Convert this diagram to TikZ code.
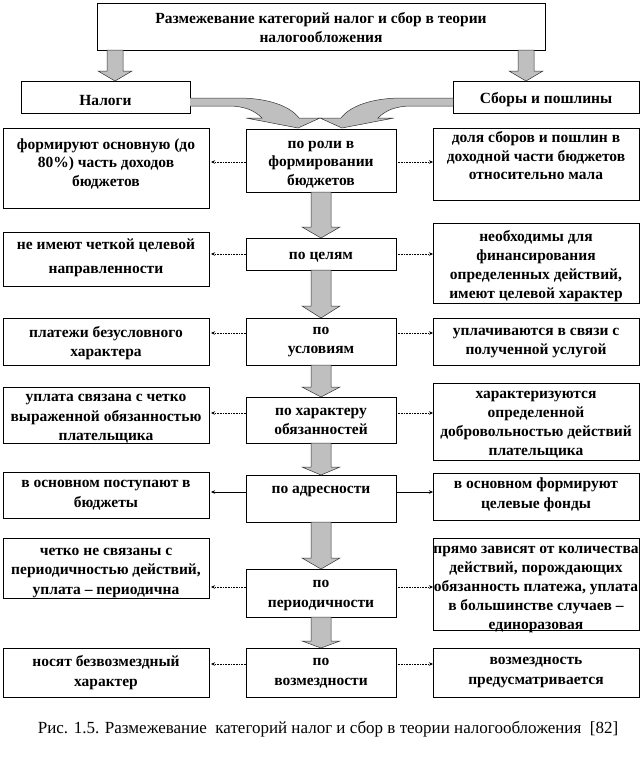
\documentclass[tikz,border=0pt]{standalone}
\usepackage{fontspec}
\setmainfont{Liberation Serif}
\usetikzlibrary{shadows,arrows.meta,calc}
\newcommand\bx[5]{\node[box, minimum width={#4-#2}, minimum height={#5-#3}] (#1) at (#2,#3) {};}
\newcommand\bdown[3]{\draw[blk] ($(#1.south)+(-10,0)$) -- ($(#1.south)+(10,0)$) -- ($(#2.north)+(10,-#3)$) -- ($(#2.north)+(19,-#3)$) -- (#2.north) -- ($(#2.north)+(-19,-#3)$) -- ($(#2.north)+(-10,-#3)$) -- cycle;}
\begin{document}
\begin{tikzpicture}[x=1pt,y=-1pt,
  box/.style={draw=black, line width=0.6pt, fill=white, inner sep=0pt, outer sep=0pt, anchor=north west,
    drop shadow={shadow xshift=1.3pt, shadow yshift=-1.3pt, fill=black!75, opacity=1}},
  txt/.style={font=\fontsize{15.5}{18.5}\selectfont\bfseries, align=center, inner sep=0pt, yshift=-3pt},
  conn/.style={line width=0.6pt, densely dotted, -{Stealth[length=4pt,width=3.5pt]}},
  connsolid/.style={line width=0.6pt, -{Stealth[length=4pt,width=3.5pt]}},
  blk/.style={fill=black!25, draw=black!80, line width=0.5pt, line join=miter},
]
\useasboundingbox (0,0) rectangle (642,761);
\fill[white] (0,0) rectangle (642,761);

% boxes
\bx{T}{97}{3}{545}{50}
\bx{N}{21}{81}{190}{113}
\bx{S}{453}{81}{639}{113}
\bx{L1}{3}{128}{209}{208}  \bx{C1}{246}{129}{396}{192} \bx{R1}{433}{128}{639}{200}
\bx{L2}{3}{232}{209}{286}  \bx{C2}{246}{238}{396}{270} \bx{R2}{433}{223}{639}{303}
\bx{L3}{3}{318}{209}{365}  \bx{C3}{246}{318}{396}{365} \bx{R3}{433}{318}{639}{365}
\bx{L4}{3}{387}{209}{443}  \bx{C4}{246}{397}{396}{443} \bx{R4}{433}{383}{639}{460}
\bx{L5}{3}{472}{209}{518}  \bx{C5}{246}{475}{396}{522} \bx{R5}{433}{473}{639}{520}
\bx{L6}{3}{538}{209}{598}  \bx{C6}{246}{569}{396}{617} \bx{R6}{433}{538}{639}{630}
\bx{L7}{3}{648}{209}{697}  \bx{C7}{246}{648}{396}{697} \bx{R7}{433}{648}{639}{697}

% top arrows
\coordinate (ax1) at (115,0);
\coordinate (ax2) at (526,0);
\draw[blk] ($(T.south -| ax1)+(-8,0)$) -- ($(T.south -| ax1)+(8,0)$) -- ($(N.north -| ax1)+(8,-10)$) -- ($(N.north -| ax1)+(17,-10)$) -- (N.north -| ax1) -- ($(N.north -| ax1)+(-17,-10)$) -- ($(N.north -| ax1)+(-8,-10)$) -- cycle;
\draw[blk] ($(T.south -| ax2)+(-8,0)$) -- ($(T.south -| ax2)+(8,0)$) -- ($(S.north -| ax2)+(8,-10)$) -- ($(S.north -| ax2)+(17,-10)$) -- (S.north -| ax2) -- ($(S.north -| ax2)+(-17,-10)$) -- ($(S.north -| ax2)+(-8,-10)$) -- cycle;

% curved arrows
\draw[blk] ($(N.east)+(0,1)$) -- (238,98) .. controls (268,98) and (290,106) .. (299,118) -- (320,118) -- (298,128) -- (246,118) -- (262,118) .. controls (254,110) and (244,106) .. (228,106) -- ($(N.east)+(0,9)$);
\draw[blk] ($(S.west)+(0,1)$) -- (402,98) .. controls (372,98) and (350,106) .. (341,118) -- (320,118) -- (342,128) -- (394,118) -- (378,118) .. controls (386,110) and (396,106) .. (412,106) -- ($(S.west)+(0,9)$);

% block arrows
\bdown{C1}{C2}{11}
\bdown{C2}{C3}{12}
\bdown{C3}{C4}{10}
\bdown{C4}{C5}{8}
\bdown{C5}{C6}{11}
\bdown{C6}{C7}{7}

% connectors
\coordinate (k1) at (0,162);
\coordinate (k2) at (0,254);
\coordinate (k3) at (0,333);
\coordinate (k4) at (0,413);
\coordinate (k5) at (0,492);
\coordinate (k6) at (0,587);
\coordinate (k7) at (0,664);
\foreach \i in {1,2,3,4,6,7}{
  \draw[conn] (C\i.west |- k\i) -- ($(L\i.east |- k\i)+(2,0)$);
  \draw[conn] (C\i.east |- k\i) -- (R\i.west |- k\i);
}
\draw[connsolid] (C5.west |- k5) -- ($(L5.east |- k5)+(2,0)$);
\draw[connsolid] (C5.east |- k5) -- (R5.west |- k5);

% texts
\node[txt] (tT) at (321,24.5) {Размежевание категорий налог и сбор в теории\\налогообложения};
\node[txt] (tN) at (105.5,97) {Налоги};
\node[txt] (tS) at (546,97) {Сборы и пошлины};

\node[txt] (tL1) at (106,160.5) {формируют основную (до\\80\%) часть доходов\\бюджетов};
\node[txt] (tC1) at (321,161.5) {по роли в\\формировании\\бюджетов};
\node[txt] (tR1) at (536,153) {доля сборов и пошлин в\\доходной части бюджетов\\относительно мала};

\node[txt, font=\fontsize{15.5}{24}\selectfont\bfseries] (tL2) at (106,255) {не имеют четкой целевой\\направленности};
\node[txt] (tC2) at (321,254) {по целям};
\node[txt, font=\fontsize{15.5}{19}\selectfont\bfseries] (tR2) at (536,263) {необходимы для\\финансирования\\определенных действий,\\имеют целевой характер};

\node[txt] (tL3) at (106,340) {платежи безусловного\\характера};
\node[txt] (tC3) at (321,339) {по\\условиям};
\node[txt] (tR3) at (536,340) {уплачиваются в связи с\\полученной услугой};

\node[txt, font=\fontsize{15.5}{19.5}\selectfont\bfseries] (tL4) at (106,416) {уплата связана с четко\\выраженной обязанностью\\плательщика};
\node[txt] (tC4) at (321,418.5) {по характеру\\обязанностей};
\node[txt, font=\fontsize{15.5}{19}\selectfont\bfseries] (tR4) at (536,421.5) {характеризуются\\определенной\\добровольностью действий\\плательщика};

\node[txt, font=\fontsize{15.5}{20}\selectfont\bfseries] (tL5) at (106,492) {в основном поступают в\\бюджеты};
\node[txt] (tC5) at (321,488) {по адресности};
\node[txt, font=\fontsize{15.5}{20}\selectfont\bfseries] (tR5) at (536,492) {в основном формируют\\целевые фонды};

\node[txt, font=\fontsize{15.5}{19.5}\selectfont\bfseries] (tL6) at (106,570) {четко не связаны с\\периодичностью действий,\\уплата – периодична};
\node[txt, font=\fontsize{15.5}{20}\selectfont\bfseries] (tC6) at (321,592) {по\\периодичности};
\node[txt, font=\fontsize{15.5}{19}\selectfont\bfseries] (tR6) at (536,586) {прямо зависят от количества\\действий, порождающих\\обязанность платежа, уплата\\в большинстве случаев –\\единоразовая};

\node[txt, font=\fontsize{15.5}{20}\selectfont\bfseries] (tL7) at (106,670) {носят безвозмездный\\характер};
\node[txt, font=\fontsize{15.5}{20}\selectfont\bfseries] (tC7) at (321,670) {по\\возмездности};
\node[txt, font=\fontsize{15.5}{20}\selectfont\bfseries] (tR7) at (536,670) {возмездность\\предусматривается};

\node[font=\fontsize{17}{20}\selectfont, inner sep=0pt] (cap) at (328,729) {Рис. 1.5. Размежевание\ \ категорий налог и сбор в теории налогообложения\ \ [82]};
\end{tikzpicture}
\end{document}
